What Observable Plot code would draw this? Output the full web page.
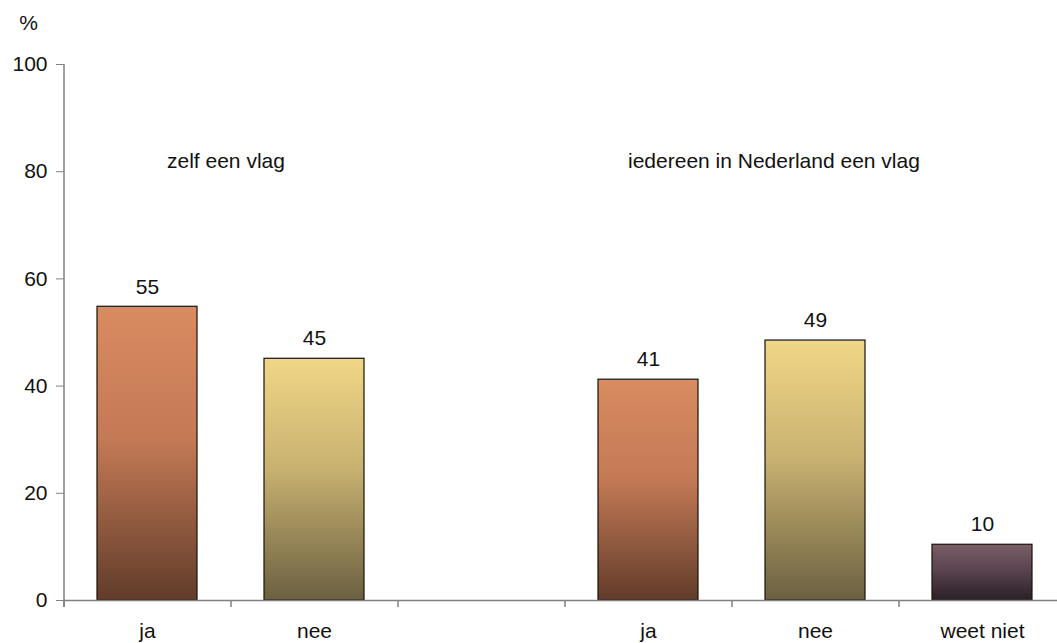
<!DOCTYPE html>
<html>
<head>
<meta charset="utf-8">
<script src="https://cdn.jsdelivr.net/npm/d3@7"></script>
<script src="https://cdn.jsdelivr.net/npm/@observablehq/plot@0.6"></script>
<style>
  html, body { margin: 0; padding: 0; background: #fff; }
  #chart svg { font-family: "Liberation Sans", Arial, sans-serif; }
</style>
</head>
<body>
<div id="chart"></div>
<script>
// ---- data ----
const slots = ["ja1", "nee1", "gap", "ja2", "nee2", "wn"];
const tickLabels = ["ja", "nee", "", "ja", "nee", "weet niet"];
const barSlots = ["ja1", "nee1", "ja2", "nee2", "wn"];
const answers = ["ja", "nee", "ja", "nee", "weet niet"];
const values = [54.8, 45.1, 41.2, 48.5, 10.4];
const valueLabels = ["55", "45", "41", "49", "10"];
const groupTitles = ["zelf een vlag", "iedereen in Nederland een vlag"];
const groupTitleSlots = ["ja1", "ja2"];
const yTicks = [0, 20, 40, 60, 80, 100];

const gradients = {
  "ja": ["#D98B61", "#C47A55", "#613C2A"],
  "nee": ["#F0D686", "#C9B271", "#6B6040"],
  "weet niet": ["#7A5E68", "#5A4450", "#2A2026"]
};
const gradId = a => "g-" + a.replace(/\s/g, "");

const bars = barSlots.map((s, i) => ({slot: s, answer: answers[i], value: values[i], label: valueLabels[i]}));
const labelMap = new Map(slots.map((s, i) => [s, tickLabels[i]]));

const defsMark = () => {
  const defs = d3.create("svg:defs");
  for (const [a, c] of Object.entries(gradients)) {
    const g = defs.append("linearGradient").attr("id", gradId(a))
      .attr("x1", 0).attr("y1", 0).attr("x2", 0).attr("y2", 1);
    g.append("stop").attr("offset", "0%").attr("stop-color", c[0]);
    g.append("stop").attr("offset", "45%").attr("stop-color", c[1]);
    g.append("stop").attr("offset", "100%").attr("stop-color", c[2]);
  }
  return defs.node();
};

const FS = 21;
const axisGrey = "#808080";

const chart = Plot.plot({
  width: 1057,
  height: 643,
  marginLeft: 64,
  marginRight: 0,
  marginTop: 64,
  marginBottom: 43,
  style: {fontFamily: "Liberation Sans, Arial, sans-serif", fontSize: FS + "px", color: "#000", background: "#fff"},
  x: {domain: slots, range: [64, 1066], paddingInner: 0.4, paddingOuter: 0.2, label: null},
  y: {domain: [0, 100], label: null},
  marks: [
    defsMark,
    ...Object.keys(gradients).map(a =>
      Plot.barY(bars.filter(d => d.answer === a), {
        x: "slot", y: "value", fill: `url(#${gradId(a)})`, stroke: "#1a1208", strokeWidth: 1.2
      })
    ),
    Plot.text(bars, {x: "slot", y: "value", text: "label", dy: -20, fontSize: FS, fill: "#111"}),
    Plot.text([groupTitles[0]], {x: () => groupTitleSlots[0], y: 82, textAnchor: "start", dx: 19.5, fontSize: FS, fill: "#111"}),
    Plot.text([groupTitles[1]], {x: () => groupTitleSlots[1], y: 82, textAnchor: "start", dx: -20.5, fontSize: FS, fill: "#111"}),
    Plot.axisY({ticks: yTicks, tickSize: 8, tickPadding: 9, stroke: axisGrey, fontSize: FS, fill: "#111", label: null}),
    Plot.ruleX([slots[0]], {x: d => d, y1: -1.3, y2: 100, dx: -83.5, stroke: axisGrey, strokeWidth: 1.5}),
    Plot.axisX({tickSize: 0, tickPadding: 23, tickFormat: d => labelMap.get(d), fontSize: FS, fill: "#111", label: null}),
    Plot.ruleY([0], {stroke: axisGrey, strokeWidth: 1.5}),
    Plot.ruleX(slots, {x: d => d, y1: 0, y2: -1.3, dx: -83.5, stroke: axisGrey, strokeWidth: 1.5}),
    Plot.text(["%"], {frameAnchor: "top-left", textAnchor: "middle", dx: -36, dy: -49, fontSize: FS, fill: "#111"})
  ]
});

document.getElementById("chart").append(chart);
</script>
</body>
</html>
